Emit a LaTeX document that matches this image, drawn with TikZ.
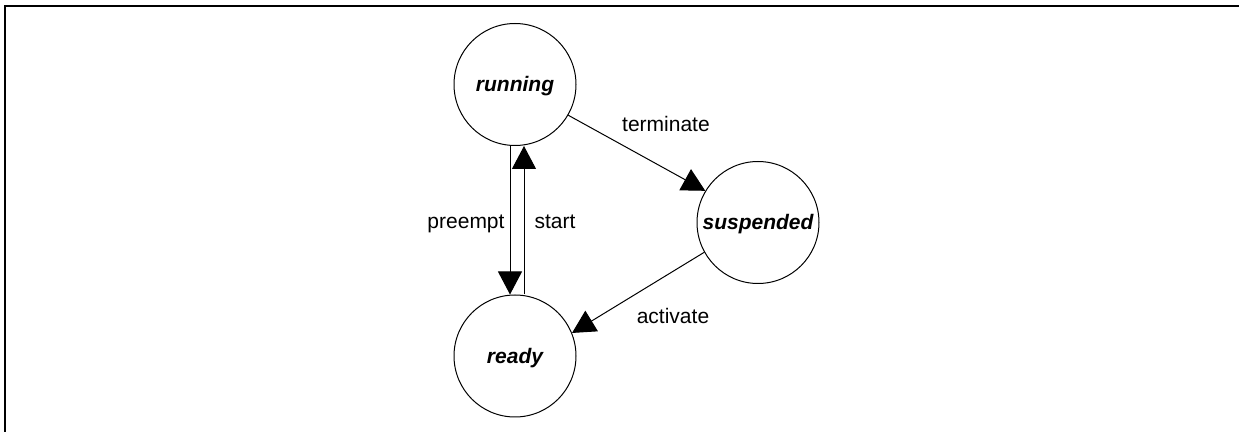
\documentclass[tikz,border=0pt]{standalone}
\usepackage{fontspec}
\setmainfont{Liberation Sans}
\usetikzlibrary{arrows.meta}

\begin{document}
\begin{tikzpicture}[x=0.5pt, y=-0.5pt]
	\tikzstyle{State} = [draw=black, circle, line width=0.5pt, minimum size=61pt, inner sep=0pt, font=\fontsize{10.5}{12}\selectfont\bfseries\itshape, text height=7.5pt, text depth=0pt, node distance=135.75pt]
	\tikzstyle{Label} = [anchor=base, inner sep=0pt, font=\fontsize{10.5}{12}\selectfont]
	\tikzstyle{Arrow} = [draw=black, line width=0.5pt, -{Triangle[width=12pt, length=11.5pt]}]

	\useasboundingbox (0,0) rectangle (1239,432);
	\draw[line width=1pt] (5,440) |- (1245,6);

	\node[name=running, State] at (515,84.5) {running};
	\node[name=ready, below of=running, State] {ready};
	\node[name=suspended, State] at (758,222.5) {suspended};

	\node[name=terminate, Label] at (666,131.7) {terminate};
	\node[name=preempt, Label] at (466,228.3) {preempt};
	\node[name=start, Label] at (555,228.3) {start};
	\node[name=activate, Label] at (673,323.3) {activate};

	\draw[Arrow] ([xshift=-2.5pt]running.south) -- ([xshift=-2.5pt]ready.north);
	\draw[Arrow] ([xshift=4.5pt]ready.north) -- ([xshift=4.5pt]running.south);
	\draw[Arrow] (running.330) -- (suspended.149);
	\draw[Arrow] (suspended.209) -- (ready.22);
\end{tikzpicture}
\end{document}
